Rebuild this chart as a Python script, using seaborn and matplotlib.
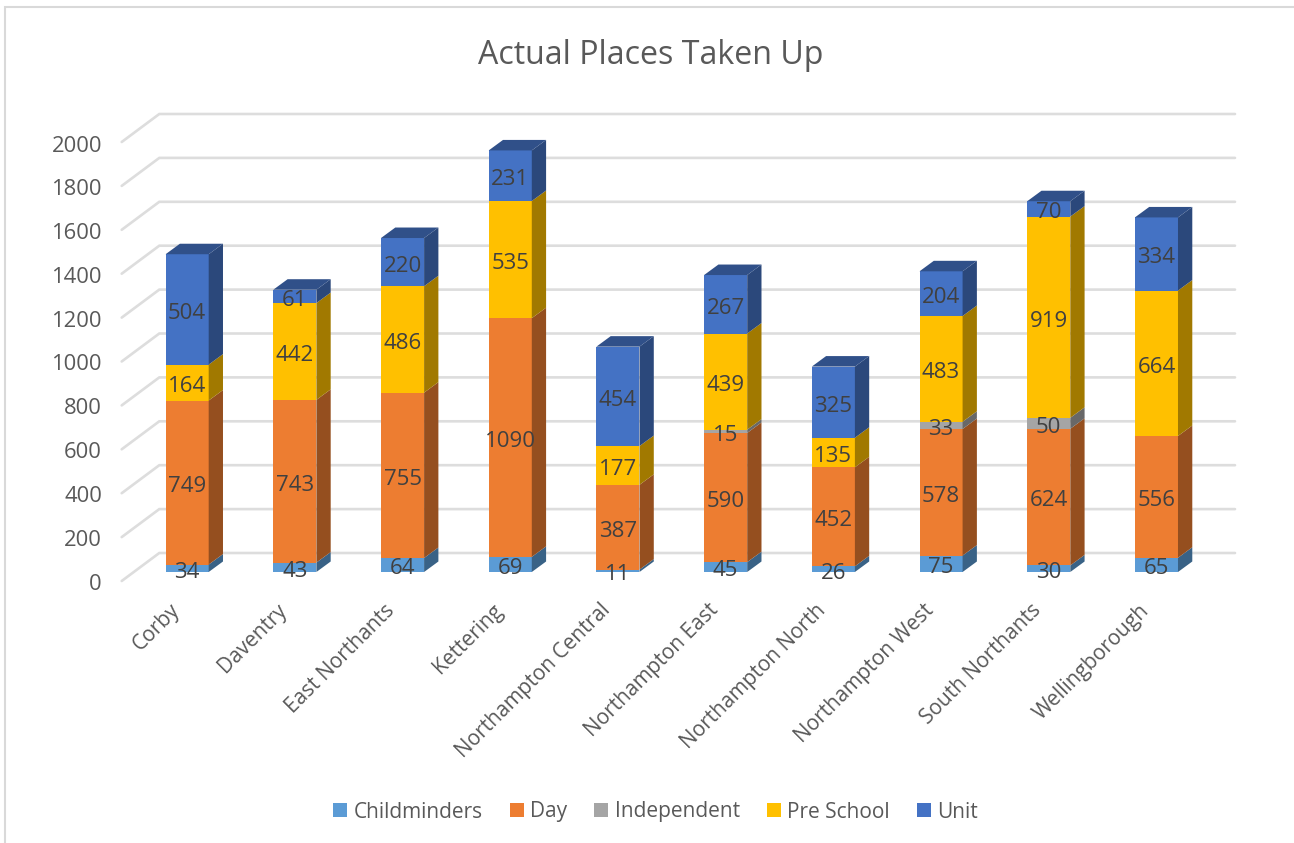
"""Actual places taken up: stacked columns drawn with a fake 3D depth"""

import pandas as pd
import matplotlib.pyplot as plt
import seaborn as sns
from matplotlib.patches import Patch, Polygon, Rectangle
from matplotlib.transforms import ScaledTranslation
from matplotlib.colors import to_rgb

areas = [
    "Corby",
    "Daventry",
    "East Northants",
    "Kettering",
    "Northampton Central",
    "Northampton East",
    "Northampton North",
    "Northampton West",
    "South Northants",
    "Wellingborough",
]
childminders = [34, 43, 64, 69, 11, 45, 26, 75, 30, 65]
day = [749, 743, 755, 1090, 387, 590, 452, 578, 624, 556]
independent = [0, 0, 0, 0, 0, 15, 0, 33, 50, 0]
pre_school = [164, 442, 486, 535, 177, 439, 135, 483, 919, 664]
unit = [504, 61, 220, 231, 454, 267, 325, 204, 70, 334]

series = ["Childminders", "Day", "Independent", "Pre School", "Unit"]
colors = ["#5B9BD5", "#ED7D31", "#A5A5A5", "#FFC000", "#4472C4"]
y_ticks = [0, 200, 400, 600, 800, 1000, 1200, 1400, 1600, 1800, 2000]

df = pd.DataFrame(
    dict(zip(series, [childminders, day, independent, pre_school, unit])),
    index=areas,
)
cum = df.cumsum(axis=1)

W, H = 1294, 843
# front plane of the bars, in pixels
X0, X1 = 133.3, 1210.3
Y0, Y2000 = 572.0, 134.0
PX_X = (X1 - X0) / 10
PX_Y = (Y0 - Y2000) / 2000
BAR_W = 0.4
DEPTH_X, DEPTH_Y = 14.3 / PX_X, 10.5 / PX_Y

sns.set_style("white")
plt.rcParams["font.family"] = ["Open Sans", "DejaVu Sans"]

fig = plt.figure(figsize=(W / 100, H / 100), dpi=100)
ax = fig.add_axes([X0 / W, 1 - Y0 / H, (X1 - X0) / W, (Y0 - Y2000) / H])
ax.patch.set_alpha(0)

# draw the tallest layer first, lower layers paint over it
for name, col in reversed(list(zip(series, colors))):
    sns.barplot(
        x=areas,
        y=cum[name].values,
        color=col,
        saturation=1,
        width=BAR_W,
        linewidth=0,
        edgecolor="none",
        ax=ax,
    )

ax.set_xlim(-0.5, 9.5)
ax.set_ylim(0, 2000)


def shade(col, f):
    return tuple(c * f for c in to_rgb(col))


# depth faces
for i, area in enumerate(areas):
    right = i + BAR_W / 2
    left = i - BAR_W / 2
    bottom = 0
    for name, col in zip(series, colors):
        v = df.loc[area, name]
        if v == 0:
            continue
        top = bottom + v
        ax.add_patch(
            Polygon(
                [
                    (right, bottom),
                    (right + DEPTH_X, bottom + DEPTH_Y),
                    (right + DEPTH_X, top + DEPTH_Y),
                    (right, top),
                ],
                closed=True,
                fc=shade(col, 0.63),
                ec="none",
                clip_on=False,
                zorder=1,
            )
        )
        # label in the middle of the front face
        ax.annotate(
            str(v),
            (i, bottom + v / 2),
            xytext=(0, -1),
            textcoords="offset points",
            ha="center",
            va="center_baseline",
            fontsize=16,
            color="#404040",
            zorder=5,
            annotation_clip=False,
        )
        bottom = top
        last_col = col
    ax.add_patch(
        Polygon(
            [
                (left, bottom),
                (left + DEPTH_X, bottom + DEPTH_Y),
                (right + DEPTH_X, bottom + DEPTH_Y),
                (right, bottom),
            ],
            closed=True,
            fc=shade(last_col, 0.7),
            ec="none",
            clip_on=False,
            zorder=1,
        )
    )

# gridlines: back wall plus the short run down the left wall
# (the wall sits a little further away than the bars, so its scale differs)
GRID_PX_Y = 439 / 2000
back_x0 = (159.3 - X0) / PX_X - 0.5
back_x1 = (1235 - X0) / PX_X - 0.5
wall_x = (121.7 - X0) / PX_X - 0.5
for v in y_ticks:
    back_y = (Y0 - (553 - v * GRID_PX_Y)) / PX_Y
    wall_y = back_y - 28 / PX_Y
    ax.plot(
        [wall_x, back_x0, back_x1],
        [wall_y, back_y, back_y],
        color="#DDDDDD",
        lw=1.9,
        clip_on=False,
        zorder=0.5,
        solid_joinstyle="miter",
    )

sns.despine(ax=ax, left=True, bottom=True)
ax.set_xlabel("")
ax.set_ylabel("")
ax.set_yticks(y_ticks)
ax.set_xticks(range(len(areas)))
ax.set_xticklabels(areas)
ax.tick_params(axis="both", length=0)
ax.tick_params(axis="y", labelsize=15.8, labelcolor="#595959", pad=22.6)
ax.tick_params(axis="x", labelsize=15.0, labelcolor="#595959", pad=20)

shift = ScaledTranslation(0, -9.5 / 100, fig.dpi_scale_trans)
for lab in ax.get_yticklabels():
    lab.set_transform(lab.get_transform() + shift)
shift_x = ScaledTranslation(-18 / 100, 0, fig.dpi_scale_trans)
for lab in ax.get_xticklabels():
    lab.set_rotation(45)
    lab.set_ha("right")
    lab.set_va("top")
    lab.set_rotation_mode("anchor")
    lab.set_transform(lab.get_transform() + shift_x)

fig.text(651 / W, 1 - 55 / H, "Actual Places Taken Up", ha="center", va="center",
         fontsize=23.1, color="#595959")

handles = [Patch(fc=c, ec="none") for c in colors]
fig.legend(
    handles,
    series,
    loc="center",
    bbox_to_anchor=(655.5 / W, 1 - 812 / H),
    ncol=5,
    frameon=False,
    fontsize=15,
    labelcolor="#595959",
    handlelength=0.68,
    handleheight=0.68,
    handletextpad=0.3,
    columnspacing=1.3,
)

# chart area border, cut off by the screenshot
fig.add_artist(
    Rectangle(
        (5 / W, -0.1),
        1.2,
        1.1 - 7.5 / H,
        transform=fig.transFigure,
        fc="none",
        ec="#D9D9D9",
        lw=1.5,
    )
)

fig.savefig("out.png", dpi=100)
